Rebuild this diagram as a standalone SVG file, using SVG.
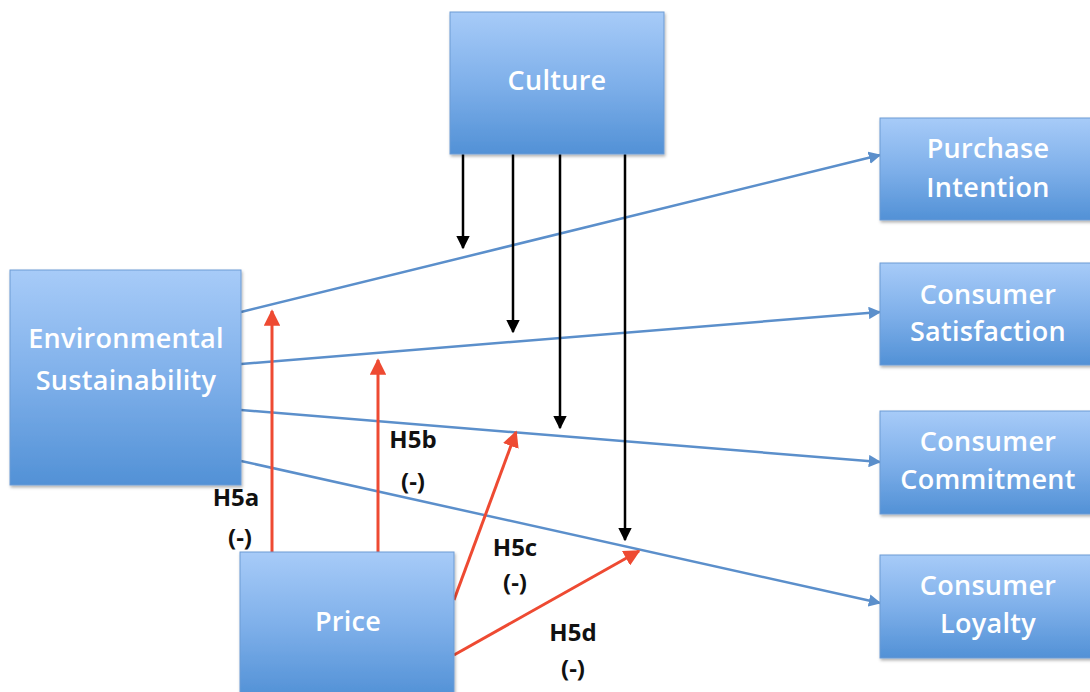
<svg xmlns="http://www.w3.org/2000/svg" width="1090" height="692" viewBox="0 0 1090 692">
  <defs>
    <linearGradient id="boxFill" x1="0" y1="0" x2="0" y2="1">
      <stop offset="0" stop-color="#a7cbf8"/>
      <stop offset="0.5" stop-color="#7fb0ea"/>
      <stop offset="1" stop-color="#5291d6"/>
    </linearGradient>
    <filter id="shadow" x="-10%" y="-10%" width="120%" height="120%">
      <feDropShadow dx="1" dy="2" stdDeviation="1.5" flood-color="#000" flood-opacity="0.3"/>
    </filter>
    <marker id="arrBlue" viewBox="0 0 10 10" refX="9" refY="5" markerWidth="5" markerHeight="5" orient="auto">
      <path d="M0,0 L10,5 L0,10 Z" fill="#5b8fcb"/>
    </marker>
    <marker id="arrBlack" viewBox="0 0 10 10" refX="9" refY="5" markerWidth="5.5" markerHeight="5.5" orient="auto">
      <path d="M0,0 L10,5 L0,10 Z" fill="#000"/>
    </marker>
    <marker id="arrRed" viewBox="0 0 10 10" refX="9" refY="5" markerWidth="5.5" markerHeight="5.5" orient="auto">
      <path d="M0,0 L10,5 L0,10 Z" fill="#ee4a32"/>
    </marker>
  </defs>
  <style>
    .box { fill: url(#boxFill); stroke: #6d9bd4; stroke-width: 1; filter: url(#shadow); }
    .lbl { fill: #fff; font-family: "Open Sans", "Liberation Sans", sans-serif; font-size: 27px; font-weight: 600; letter-spacing: 0.3px; text-anchor: middle; }
    .hyp { fill: #111; font-family: "Open Sans", "Liberation Sans", sans-serif; font-size: 24px; font-weight: bold; text-anchor: middle; }
    .blue { stroke: #5b8fcb; stroke-width: 2.5; fill: none; marker-end: url(#arrBlue); }
    .black { stroke: #000; stroke-width: 2.5; fill: none; marker-end: url(#arrBlack); }
    .red { stroke: #ee4a32; stroke-width: 3; fill: none; marker-end: url(#arrRed); }
  </style>

  <rect width="1090" height="692" fill="#fff"/>

  <g id="connectors">
    <!-- Environmental Sustainability to outcomes -->
    <line class="blue" x1="241" y1="312" x2="880" y2="155"/>
    <line class="blue" x1="241" y1="364" x2="880" y2="312"/>
    <line class="blue" x1="241" y1="410" x2="880" y2="462"/>
    <line class="blue" x1="241" y1="461" x2="880" y2="603"/>
    <!-- Culture moderation -->
    <line class="black" x1="463" y1="154" x2="463" y2="248"/>
    <line class="black" x1="513" y1="154" x2="513" y2="332"/>
    <line class="black" x1="560" y1="154" x2="560" y2="428"/>
    <line class="black" x1="625" y1="154" x2="625" y2="540"/>
    <!-- Price moderation -->
    <line class="red" x1="272" y1="552" x2="272" y2="311"/>
    <line class="red" x1="378" y1="552" x2="378" y2="360"/>
    <line class="red" x1="454" y1="600" x2="516" y2="432"/>
    <line class="red" x1="454" y1="655" x2="639" y2="551"/>
  </g>

  <g id="culture">
    <rect class="box" x="450" y="12" width="214" height="142"/>
    <text class="lbl" x="557" y="90">Culture</text>
  </g>
  <g id="environmental-sustainability">
    <rect class="box" x="10" y="270" width="231" height="215"/>
    <text class="lbl" x="126" y="348">Environmental</text>
    <text class="lbl" x="126" y="390">Sustainability</text>
  </g>
  <g id="price">
    <rect class="box" x="240" y="552" width="214" height="145"/>
    <text class="lbl" x="348" y="631">Price</text>
  </g>
  <g id="purchase-intention">
    <rect class="box" x="880" y="118" width="212" height="102"/>
    <text class="lbl" x="988" y="158">Purchase</text>
    <text class="lbl" x="988" y="197">Intention</text>
  </g>
  <g id="consumer-satisfaction">
    <rect class="box" x="880" y="263" width="212" height="102"/>
    <text class="lbl" x="988" y="304">Consumer</text>
    <text class="lbl" x="988" y="341">Satisfaction</text>
  </g>
  <g id="consumer-commitment">
    <rect class="box" x="880" y="411" width="212" height="103"/>
    <text class="lbl" x="988" y="451">Consumer</text>
    <text class="lbl" x="988" y="489">Commitment</text>
  </g>
  <g id="consumer-loyalty">
    <rect class="box" x="880" y="555" width="212" height="103"/>
    <text class="lbl" x="988" y="595">Consumer</text>
    <text class="lbl" x="988" y="633">Loyalty</text>
  </g>

  <g id="hypotheses">
    <text class="hyp" x="236" y="506">H5a</text>
    <text class="hyp" x="240" y="546">(-)</text>
    <text class="hyp" x="413" y="448">H5b</text>
    <text class="hyp" x="413" y="490">(-)</text>
    <text class="hyp" x="515" y="556">H5c</text>
    <text class="hyp" x="515" y="591">(-)</text>
    <text class="hyp" x="573" y="641">H5d</text>
    <text class="hyp" x="573" y="677">(-)</text>
  </g>
</svg>
